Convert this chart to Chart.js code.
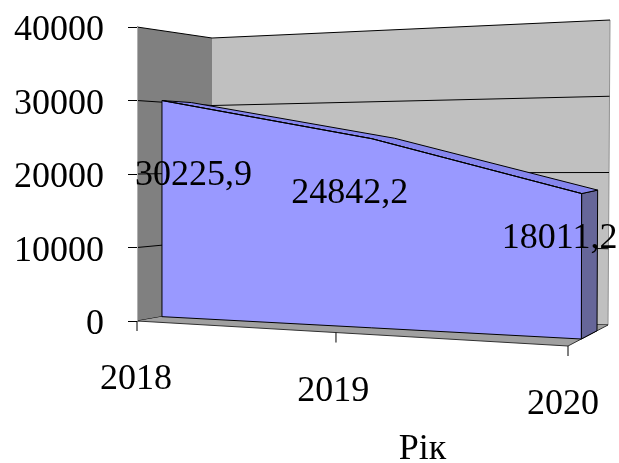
<!DOCTYPE html>
<html lang="uk">
<head>
<meta charset="utf-8">
<title>Рік</title>
<script src="https://cdn.jsdelivr.net/npm/chart.js@4.4.1/dist/chart.umd.min.js"></script>
<style>
  html, body { margin: 0; padding: 0; background: #ffffff; }
  canvas { display: block; }
</style>
</head>
<body>
<canvas id="chart" width="619" height="463"></canvas>
<script>
// ---- data ----
const years = ['2018', '2019', '2020'];
const amounts = [30225.9, 24842.2, 18011.2];
const amountLabels = ['30225,9', '24842,2', '18011,2'];
const axisMax = 40000;
const axisStep = 10000;
const axisTitle = 'Рік';

// ---- look ----
const FONT = '"Liberation Serif", "Times New Roman", serif';
const FONT_SIZE = 36;
const COLORS = {
  sideWall: '#808080',
  backWall: '#c0c0c0',
  floor: '#a0a0a0',
  grid: '#000000',
  areaFront: '#9999ff',
  areaTop: '#8686ee',
  areaSide: '#666699',
  edge: '#000000'
};

// Screen corners of the 3-D plot box, named p[u][v][w]:
// u runs along the categories, v up the value axis, w from the front to the back.
const box = {
  p000: [137, 321], p010: [137, 27], p001: [212, 308], p011: [212, 38],
  p100: [568, 346], p110: [568, 14], p101: [608, 325], p111: [610, 20]
};
// depth band occupied by the area series
const slab = { front: 0.333, back: 0.725 };
// perspective squeeze of the category ticks along the front floor edge
const edgeForeshortening = 1.166;
// value label placement relative to the top front corner of each point
const valueLabelShift = -22;
const valueLabelDrop = [75, 55, 45];
const tickMarkLength = 10;
const categoryLabelGap = 59;
const axisTitleShift = [70, 116.5];

function lerp(a, b, t) {
  return [a[0] + (b[0] - a[0]) * t, a[1] + (b[1] - a[1]) * t];
}
function project(u, v, w) {
  const c00 = lerp(box.p000, box.p100, u);
  const c10 = lerp(box.p010, box.p110, u);
  const c01 = lerp(box.p001, box.p101, u);
  const c11 = lerp(box.p011, box.p111, u);
  const f = lerp(c00, c10, v);
  const b = lerp(c01, c11, v);
  const p = lerp(f, b, w);
  return { x: p[0], y: p[1] };
}
function unitX(chart, px) {
  const a = chart.chartArea;
  return (px - a.left) / (a.right - a.left);
}
function unitY(chart, py) {
  const a = chart.chartArea;
  return (a.bottom - py) / (a.bottom - a.top);
}
function alongFrontEdge(u) {
  return u / (u + (1 - u) * edgeForeshortening);
}
function polygon(ctx, pts, fill, stroke) {
  ctx.beginPath();
  pts.forEach((p, i) => (i ? ctx.lineTo(p.x, p.y) : ctx.moveTo(p.x, p.y)));
  ctx.closePath();
  if (fill) { ctx.fillStyle = fill; ctx.fill(); }
  if (stroke) { ctx.strokeStyle = stroke; ctx.lineWidth = 1; ctx.stroke(); }
}
function polyline(ctx, pts, stroke) {
  ctx.beginPath();
  pts.forEach((p, i) => (i ? ctx.lineTo(p.x, p.y) : ctx.moveTo(p.x, p.y)));
  ctx.strokeStyle = stroke;
  ctx.lineWidth = 1;
  ctx.stroke();
}

const perspective = {
  id: 'perspective',
  // move each point of the series from the flat plot onto the front face of the 3-D area
  afterDatasetsUpdate(chart) {
    const meta = chart.getDatasetMeta(0);
    meta.data.forEach(pt => {
      const u = unitX(chart, pt.x);
      const v = unitY(chart, pt.y);
      const p = project(u, v, slab.front);
      pt.$u = u;
      pt.$v = v;
      pt.x = p.x;
      pt.y = p.y;
    });
  },
  // walls, gridlines and floor
  beforeDraw(chart) {
    const ctx = chart.ctx;
    const yScale = chart.scales.y;
    ctx.save();
    polygon(ctx, [project(0, 0, 0), project(0, 1, 0), project(0, 1, 1), project(0, 0, 1)], COLORS.sideWall);
    polygon(ctx, [project(0, 0, 1), project(0, 1, 1), project(1, 1, 1), project(1, 0, 1)], COLORS.backWall);
    polyline(ctx, [project(1, 1, 1), project(1, 0, 1)], '#909090');
    yScale.ticks.forEach(t => {
      const v = unitY(chart, yScale.getPixelForValue(t.value));
      polyline(ctx, [project(0, v, 0), project(0, v, 1), project(1, v, 1)], COLORS.grid);
    });
    polygon(ctx, [project(0, 0, 0), project(1, 0, 0), project(1, 0, 1), project(0, 0, 1)], COLORS.floor);
    polyline(ctx, [project(0, 0, 0), project(1, 0, 0), project(1, 0, 1)], '#303030');
    ctx.restore();
  },
  // faces of the area slab; the library then strokes the front top edge
  beforeDatasetsDraw(chart) {
    const ctx = chart.ctx;
    const pts = chart.getDatasetMeta(0).data;
    const n = pts.length - 1;
    const front = pts.map(p => ({ x: p.x, y: p.y }));
    const frontBase = pts.map(p => project(p.$u, 0, slab.front));
    const back = pts.map(p => project(p.$u, p.$v, slab.back));
    const backBase = pts.map(p => project(p.$u, 0, slab.back));
    ctx.save();
    ctx.lineJoin = 'round';
    polygon(ctx, [front[n], back[n], backBase[n], frontBase[n]], COLORS.areaSide, COLORS.edge);
    polygon(ctx, front.concat(back.slice().reverse()), COLORS.areaTop, COLORS.edge);
    polygon(ctx, front.concat(frontBase.slice().reverse()), COLORS.areaFront, COLORS.edge);
    ctx.restore();
  },
  // value labels, category ticks and labels, axis title
  afterDatasetsDraw(chart) {
    const ctx = chart.ctx;
    const xScale = chart.scales.x;
    const pts = chart.getDatasetMeta(0).data;
    ctx.save();
    ctx.font = FONT_SIZE + 'px ' + FONT;
    ctx.fillStyle = '#000000';
    ctx.textAlign = 'center';
    ctx.textBaseline = 'middle';

    pts.forEach((p, i) => {
      const text = amountLabels[i];
      const half = ctx.measureText(text).width / 2;
      let cx = p.x + valueLabelShift;
      if (cx - half < chart.chartArea.left - 2) cx = chart.chartArea.left - 2 + half;
      ctx.fillText(text, cx, p.y + valueLabelDrop[i]);
    });

    years.forEach((year, i) => {
      const u = alongFrontEdge(unitX(chart, xScale.getPixelForValue(i)));
      const e = project(u, 0, 0);
      polyline(ctx, [e, { x: e.x, y: e.y + tickMarkLength }], '#000000');
      ctx.fillText(year, e.x - 1 - 4 * u, e.y + categoryLabelGap);
    });

    const mid = project(0.5, 0, 0);
    ctx.fillText(axisTitle, mid.x + axisTitleShift[0], mid.y + axisTitleShift[1]);
    ctx.restore();
  }
};

new Chart(document.getElementById('chart'), {
  type: 'line',
  data: {
    labels: years,
    datasets: [{
      data: amounts,
      borderColor: COLORS.edge,
      borderWidth: 1,
      backgroundColor: COLORS.areaFront,
      fill: false,
      pointRadius: 0,
      pointHoverRadius: 0,
      tension: 0,
      clip: false
    }]
  },
  options: {
    responsive: false,
    animation: false,
    events: [],
    layout: { padding: { left: 0, top: 27, right: 9, bottom: 142 } },
    plugins: {
      legend: { display: false },
      tooltip: { enabled: false }
    },
    scales: {
      x: { type: 'category', display: false, offset: false },
      y: {
        min: 0,
        max: axisMax,
        ticks: {
          stepSize: axisStep,
          color: '#000000',
          font: { family: FONT, size: FONT_SIZE },
          padding: 24,
          labelOffset: 4,
          callback: value => String(value)
        },
        grid: {
          drawOnChartArea: false,
          drawTicks: true,
          tickLength: 9,
          color: '#000000',
          lineWidth: 1
        },
        border: { display: true, color: '#b0b0b0', width: 1 },
        afterFit(scale) {
          scale.width = 137;
          scale.paddingTop = 0;
          scale.paddingBottom = 0;
        }
      }
    }
  },
  plugins: [perspective]
});
</script>
</body>
</html>
